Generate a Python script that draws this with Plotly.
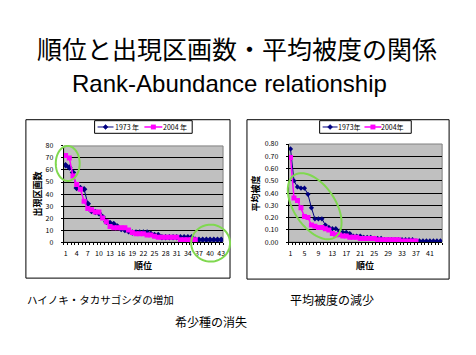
import numpy as np
import plotly.graph_objects as go

W, H = 476, 355

# ---------------- data ----------------
rank = list(range(1, 45))
occ_1973 = [64, 62, 58, 45, 45, 44, 32, 26, 25, 24,
            21, 17, 16, 15, 13, 11, 10, 9, 8, 8,
            8, 8, 8, 7, 6, 6, 4, 4, 4, 4,
            4, 4, 4, 4, 4, 2, 2, 2, 2, 2,
            2, 2, 2]
occ_2004 = [72, 70, 55, 48, 44, 34, 28, 27, 25, 25,
            20, 17, 13, 12, 12, 12, 12, 10, 8, 7,
            7, 7, 6, 6, 5, 4, 4, 4, 4, 4,
            4, 2, 2, 2, 2, 2]
cov_1973 = [0.76, 0.50, 0.45, 0.44, 0.44, 0.39, 0.28, 0.19, 0.19, 0.19,
            0.14, 0.12, 0.11, 0.11, 0.09, 0.08, 0.08, 0.07, 0.05, 0.05,
            0.05, 0.04, 0.04, 0.04, 0.03, 0.03, 0.03, 0.02, 0.02, 0.02,
            0.02, 0.02, 0.02, 0.02, 0.02, 0.02, 0.01, 0.01, 0.01, 0.01,
            0.01, 0.01, 0.01, 0.01]
cov_2004 = [0.69, 0.36, 0.34, 0.28, 0.21, 0.20, 0.14, 0.13, 0.12, 0.12,
            0.11, 0.10, 0.07, 0.06, 0.06, 0.05, 0.05, 0.04, 0.04, 0.04,
            0.03, 0.03, 0.03, 0.03, 0.03, 0.02, 0.02, 0.02, 0.02, 0.02,
            0.02, 0.02, 0.01, 0.01, 0.01, 0.01, 0.01]
occ_ticks = list(range(1, 44, 3))
cov_ticks = list(range(1, 42, 4))
series_left = ["1973 年", "2004 年"]
series_right = ["1973年", "2004年"]

BLUE = "#000080"
PINK = "#FF00FF"
GREEN = "#80D850"
JP = "Noto Sans CJK JP"
EN = "Liberation Sans"


def px(x):
    return x / W


def py(y):
    return 1 - y / H


fig = go.Figure()
fig.add_trace(go.Scatter(x=rank[:len(occ_1973)], y=occ_1973, xaxis="x", yaxis="y",
                         mode="lines+markers", line=dict(color=BLUE, width=1),
                         marker=dict(symbol="diamond", size=5, color=BLUE)))
fig.add_trace(go.Scatter(x=rank[:len(occ_2004)], y=occ_2004, xaxis="x", yaxis="y",
                         mode="lines+markers", line=dict(color=PINK, width=1.5),
                         marker=dict(symbol="square", size=5, color=PINK)))
fig.add_trace(go.Scatter(x=rank[:len(cov_1973)], y=cov_1973, xaxis="x2", yaxis="y2",
                         mode="lines+markers", line=dict(color=BLUE, width=1),
                         marker=dict(symbol="diamond", size=4, color=BLUE)))
fig.add_trace(go.Scatter(x=rank[:len(cov_2004)], y=cov_2004, xaxis="x2", yaxis="y2",
                         mode="lines+markers", line=dict(color=PINK, width=1.5),
                         marker=dict(symbol="square", size=5, color=PINK)))

tickfont = dict(family=JP, size=7, color="black")
minor = dict(tickmode="linear", tick0=0.5, dtick=1, ticks="outside", ticklen=2,
             tickcolor="black", showgrid=False)

fig.update_layout(
    width=W, height=H, margin=dict(l=0, r=0, t=0, b=0),
    paper_bgcolor="white", plot_bgcolor="#C0C0C0", showlegend=False,
    xaxis=dict(domain=[px(64), px(224)], range=[0.5, 43.5], tickmode="array",
               tickvals=occ_ticks, showgrid=False, zeroline=False, showline=True,
               linecolor="black", ticks="", minor=minor, tickfont=tickfont,
               tickangle=0, anchor="y", ticklabelstandoff=4),
    yaxis=dict(domain=[py(243), py(144)], range=[0, 80], dtick=10, showgrid=True,
               gridcolor="black", gridwidth=1, zeroline=False, showline=True,
               linecolor="black", ticks="outside", ticklen=2, tickcolor="black",
               tickfont=tickfont, anchor="x", ticklabelstandoff=6),
    xaxis2=dict(domain=[px(290), px(444)], range=[0.5, 44.5], tickmode="array",
                tickvals=cov_ticks, showgrid=False, zeroline=False, showline=True,
                linecolor="black", ticks="", minor=minor, tickfont=tickfont,
                tickangle=0, anchor="y2", ticklabelstandoff=4),
    yaxis2=dict(domain=[py(243), py(142)], range=[0, 0.8], dtick=0.1, tickformat=".2f",
                showgrid=True, gridcolor="black", gridwidth=1, zeroline=False,
                showline=True, linecolor="black", ticks="outside", ticklen=2,
                tickcolor="black", tickfont=tickfont, anchor="x2", ticklabelstandoff=6),
)

shapes = []
# chart frames
for (x0, y0, x1, y1) in [(26, 117, 231, 280), (248, 117, 451, 281)]:
    shapes.append(dict(type="rect", xref="paper", yref="paper",
                       x0=px(x0), y0=py(y1), x1=px(x1), y1=py(y0),
                       line=dict(color="black", width=1), fillcolor="rgba(0,0,0,0)",
                       layer="below"))
# plot-area borders
for xr, yr in [("x domain", "y domain"), ("x2 domain", "y2 domain")]:
    shapes.append(dict(type="rect", xref=xr, yref=yr, x0=0, y0=0, x1=1, y1=1,
                       line=dict(color="#808080", width=1), layer="below"))


def ellipse_path(cx, cy, a, b, theta_deg):
    t = np.linspace(0, 2 * np.pi, 80)
    th = np.deg2rad(theta_deg)
    xs = cx + a * np.cos(t) * np.cos(th) - b * np.sin(t) * np.sin(th)
    ys = cy + a * np.cos(t) * np.sin(th) + b * np.sin(t) * np.cos(th)
    pts = [f"{px(x):.5f},{py(y):.5f}" for x, y in zip(xs, ys)]
    return "M " + " L ".join(pts) + " Z"


for (cx, cy, a, b, th) in [(68, 162, 12, 18, 0), (211.5, 244, 19.5, 19, 0),
                           (316, 206, 38, 21, 57.6)]:
    shapes.append(dict(type="path", xref="paper", yref="paper",
                       path=ellipse_path(cx, cy, a, b, th),
                       line=dict(color=GREEN, width=2), layer="above"))

annotations = []


def legend(x0, x1, y0, y1, entries):
    shapes.append(dict(type="rect", xref="paper", yref="paper",
                       x0=px(x0), x1=px(x1), y0=py(y1), y1=py(y0),
                       line=dict(color="black", width=1), fillcolor="white", layer="above"))
    yc = (y0 + y1) / 2
    for (lx0, lx1, tx, label, color, sym) in entries:
        shapes.append(dict(type="line", xref="paper", yref="paper",
                           x0=px(lx0), x1=px(lx1), y0=py(yc), y1=py(yc),
                           line=dict(color=color, width=1 if sym == "d" else 1.5),
                           layer="above"))
        mx = (lx0 + lx1) / 2
        if sym == "d":
            path = (f"M {px(mx-2.5)},{py(yc)} L {px(mx)},{py(yc-2.5)} "
                    f"L {px(mx+2.5)},{py(yc)} L {px(mx)},{py(yc+2.5)} Z")
            shapes.append(dict(type="path", xref="paper", yref="paper", path=path,
                               fillcolor=color, line=dict(color=color, width=0.5),
                               layer="above"))
        else:
            shapes.append(dict(type="rect", xref="paper", yref="paper",
                               x0=px(mx - 2.5), x1=px(mx + 2.5), y0=py(yc + 2.5),
                               y1=py(yc - 2.5), fillcolor=color,
                               line=dict(color=color, width=0), layer="above"))
        annotations.append(dict(x=px(tx), y=py(yc), xref="paper", yref="paper",
                                text=label, showarrow=False, xanchor="left",
                                yanchor="middle", borderpad=0,
                                font=dict(family=JP, size=7, color="black")))


legend(95, 193, 118, 131, [(98, 114, 114, series_left[0], BLUE, "d"),
                          (145, 163, 163, series_left[1], PINK, "s")])
legend(321, 413, 118, 131, [(324, 339, 338, series_right[0], BLUE, "d"),
                           (366, 383, 382, series_right[1], PINK, "s")])


def text(x, y, s, size, family=JP, angle=0, anchor="center"):
    annotations.append(dict(x=px(x), y=py(y), xref="paper", yref="paper", text=s,
                            showarrow=False, textangle=angle, xanchor=anchor,
                            yanchor="middle", borderpad=0,
                            font=dict(family=family, size=size, color="black")))


text(238, 43, "順位と出現区画数・平均被度の関係", 25)
text(230, 80, "Rank-Abundance relationship", 24, family=EN)
text(38, 193, "<b>出現区画数</b>", 9, angle=-90)
text(257, 193, "<b>平均被度</b>", 9, angle=-90)
text(144, 267, "<b>順位</b>", 9)
text(367, 267, "<b>順位</b>", 9)
text(26, 302, "ハイノキ・タカサゴシダの増加", 10.5, anchor="left")
text(290, 302, "平均被度の減少", 12, anchor="left")
text(175, 325, "希少種の消失", 12, anchor="left")

fig.update_layout(shapes=shapes, annotations=annotations)
fig.write_html("out.html", config={"displayModeBar": False},
               post_script="document.body.style.margin='0';")
